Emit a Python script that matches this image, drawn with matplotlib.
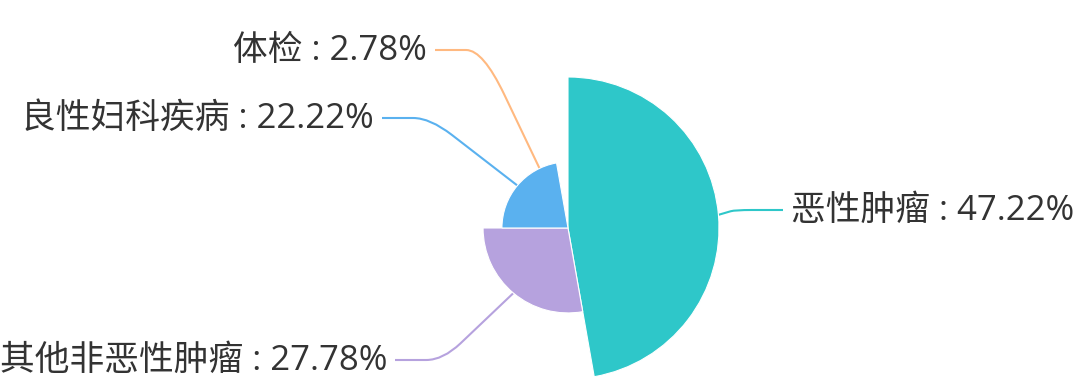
import numpy as np
import matplotlib.pyplot as plt
from matplotlib.patches import Wedge, PathPatch
from matplotlib.path import Path

plt.rcParams['font.family'] = ['Open Sans', 'Noto Sans CJK SC', 'DejaVu Sans']

# data (clockwise from 12 o'clock)
names = ['恶性肿瘤', '其他非恶性肿瘤', '良性妇科疾病', '体检']
counts = [17, 10, 8, 1]
colors = ['#2ec7c9', '#b6a2de', '#5ab1ef', '#ffb980']

# layout in pixel coords (y up)
W, H = 1080, 390
center = (568, 162)
r_max = 151
# end of each leader line (x, y)
label_ends = [(783, 180), (395, 30), (382, 272), (435, 340)]
elbow_len = 48
text_gap = 8

fig = plt.figure(figsize=(W / 100, H / 100), dpi=100)
ax = fig.add_axes([0, 0, 1, 1])
ax.set_xlim(0, W)
ax.set_ylim(0, H)
ax.axis('off')

vals = np.array(counts, dtype=float)
pct = vals / vals.sum() * 100
# rose type "radius": value extent mapped to [0, r_max]
radii = (vals - vals.min()) / (vals.max() - vals.min()) * r_max

start = 90.0
for name, p, r, col, (ex, ey) in zip(names, pct, radii, colors, label_ends):
    sweep = p / 100 * 360
    t1, t2 = start - sweep, start
    if r > 0:
        ax.add_patch(Wedge(center, r, t1, t2, facecolor=col, edgecolor='white', lw=0.8, zorder=2))
    mid = np.deg2rad((t1 + t2) / 2)
    sx = center[0] + r * np.cos(mid)
    sy = center[1] + r * np.sin(mid)
    right = ex > center[0]
    bx = ex - elbow_len if right else ex + elbow_len
    by = ey
    # rounded corner at the elbow
    a = (sx + 0.75 * (bx - sx), sy + 0.75 * (by - sy))
    b = (bx + 0.35 * (ex - bx), by)
    verts = [(sx, sy), a, (bx, by), b, (ex, ey)]
    codes = [Path.MOVETO, Path.LINETO, Path.CURVE3, Path.CURVE3, Path.LINETO]
    ax.add_patch(PathPatch(Path(verts, codes), fill=False, edgecolor=col, lw=1.5, zorder=1))
    label = f'{name} : {p:.2f}%'
    if right:
        ax.text(ex + text_gap, ey - 1, label, ha='left', va='center', fontsize=25, color='#333333')
    else:
        ax.text(ex - text_gap, ey - 1, label, ha='right', va='center', fontsize=25, color='#333333')
    start = t1

fig.savefig('out.png', dpi=100)
plt.close(fig)
